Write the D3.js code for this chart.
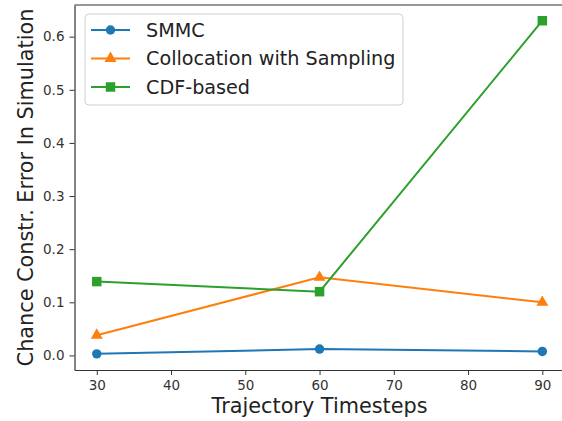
<!DOCTYPE html>
<html lang="en">
<head>
<meta charset="utf-8">
<title>Chance constraint error</title>
<style>
  body { margin: 0; background: #fff; }
  .axis path, .axis line { stroke: #333; }
  .axis text { font-family: "DejaVu Sans", sans-serif; font-size: 13.5px; fill: #333; }
  .label { font-family: "DejaVu Sans", sans-serif; font-size: 20.8px; fill: #222; }
  .legend text { font-family: "DejaVu Sans", sans-serif; font-size: 19.2px; fill: #222; }
</style>
</head>
<body>
<script src="https://cdn.jsdelivr.net/npm/d3@7"></script>
<script>
const timesteps = [30, 60, 90];
const smmc = [0.003, 0.012, 0.0075];
const collocation = [0.038, 0.147, 0.10];
const cdfBased = [0.139, 0.12, 0.63];
const xTicks = [30, 40, 50, 60, 70, 80, 90];
const yTicks = [0.0, 0.1, 0.2, 0.3, 0.4, 0.5, 0.6];

const series = [
  { name: "SMMC", values: smmc, color: "#1f77b4", symbol: d3.symbolCircle, size: 70 },
  { name: "Collocation with Sampling", values: collocation, color: "#ff7f0e", symbol: d3.symbolTriangle, size: 62 },
  { name: "CDF-based", values: cdfBased, color: "#2ca02c", symbol: d3.symbolSquare, size: 90 }
];

const width = 562, height = 421;
const mLeft = 74.5, mRight = 564.6, mTop = 5, mBottom = 370;

const x = d3.scaleLinear().domain([27, 93]).range([mLeft, mRight]);
const y = d3.scaleLinear().domain([-0.0274, 0.6596]).range([mBottom, mTop]);

const svg = d3.select("body").append("svg")
  .attr("width", width).attr("height", height);

// axes
svg.append("g")
  .attr("class", "axis")
  .attr("transform", `translate(0,${mBottom})`)
  .call(d3.axisBottom(x).tickValues(xTicks).tickSizeInner(5).tickSizeOuter(0).tickPadding(5).tickFormat(d3.format("d")))
  .call(g => g.select(".domain").attr("stroke-width", 1.2));

svg.append("g")
  .attr("class", "axis")
  .attr("transform", `translate(${mLeft},0)`)
  .call(d3.axisLeft(y).tickValues(yTicks).tickSizeInner(5).tickSizeOuter(0).tickPadding(5).tickFormat(d3.format(".1f")))
  .call(g => g.select(".domain").attr("stroke-width", 1.2));

// top spine
svg.append("line")
  .attr("x1", mLeft).attr("x2", width)
  .attr("y1", mTop).attr("y2", mTop)
  .attr("stroke", "#333").attr("stroke-width", 1.2);

// lines and markers
const line = d3.line().x((d, i) => x(timesteps[i])).y(d => y(d));
series.forEach(s => {
  svg.append("path")
    .attr("d", line(s.values))
    .attr("fill", "none")
    .attr("stroke", s.color)
    .attr("stroke-width", 2);
  svg.append("g").selectAll("path")
    .data(s.values)
    .join("path")
      .attr("transform", (d, i) => `translate(${x(timesteps[i])},${y(d)})`)
      .attr("d", d3.symbol().type(s.symbol).size(s.size))
      .attr("fill", s.color);
});

// legend
const legend = svg.append("g").attr("class", "legend");
legend.append("rect")
  .attr("x", 85).attr("y", 14).attr("width", 318).attr("height", 91)
  .attr("rx", 4)
  .attr("fill", "rgba(255,255,255,0.8)")
  .attr("stroke", "#d0d0d0");
series.forEach((s, i) => {
  const ly = 30 + i * 28.5;
  legend.append("line")
    .attr("x1", 91).attr("x2", 130).attr("y1", ly).attr("y2", ly)
    .attr("stroke", s.color).attr("stroke-width", 2);
  legend.append("path")
    .attr("transform", `translate(110.5,${ly})`)
    .attr("d", d3.symbol().type(s.symbol).size(s.size))
    .attr("fill", s.color);
  legend.append("text")
    .attr("x", 146).attr("y", ly).attr("dy", "0.35em")
    .text(s.name);
});

// axis titles
svg.append("text")
  .attr("class", "label")
  .attr("x", (mLeft + mRight) / 2).attr("y", 413)
  .attr("text-anchor", "middle")
  .text("Trajectory Timesteps");

svg.append("text")
  .attr("class", "label")
  .attr("transform", `translate(33,${(mTop + mBottom) / 2}) rotate(-90)`)
  .attr("text-anchor", "middle")
  .text("Chance Constr. Error In Simulation");
</script>
</body>
</html>
